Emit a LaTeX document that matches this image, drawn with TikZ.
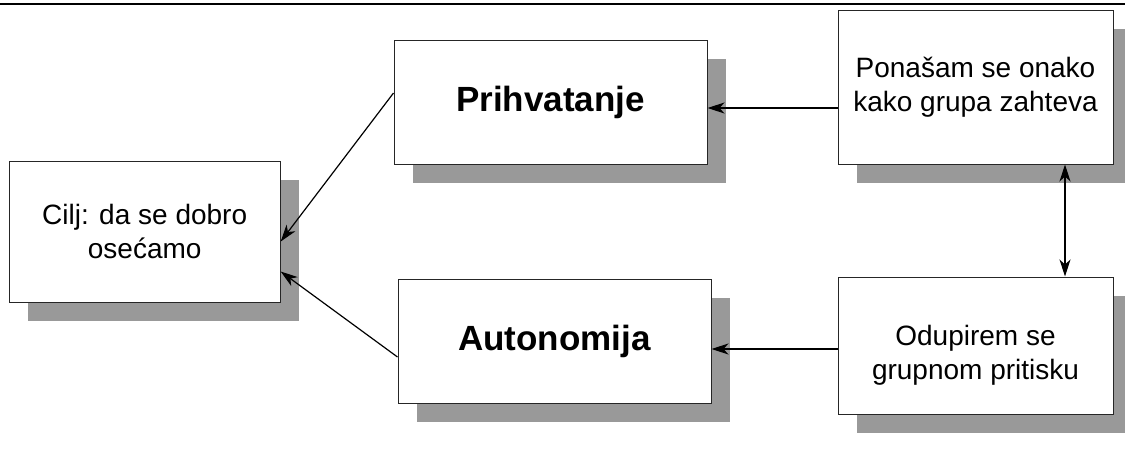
\documentclass[tikz,border=0pt]{standalone}
\usepackage{fontspec}
\setmainfont{Liberation Sans}
\usetikzlibrary{shadows,arrows.meta}
\definecolor{shadowgray}{RGB}{153,153,153}

\begin{document}
\begin{tikzpicture}[x=1pt,y=-1pt,
  box/.style={draw=black!85,line width=1pt,fill=white,align=center,inner sep=0pt,
    drop shadow={shadow xshift=19pt,shadow yshift=-19pt,fill=shadowgray,opacity=1},
    font=\fontsize{28}{33.6}\selectfont},
  bigbox/.style={box,font=\fontsize{35}{42}\selectfont\bfseries},
  arr/.style={-{Stealth[length=17pt,width=11pt,inset=5pt]},line width=1.2pt},
  twoarr/.style={{Stealth[length=17pt,width=11pt,inset=5pt]}-{Stealth[length=17pt,width=11pt,inset=5pt]},line width=1.2pt}]
\useasboundingbox (0,0) rectangle (1125,448);
\draw[line width=2.2pt] (0,4.3) -- (1125,4.3);
\node[box,minimum width=271pt,minimum height=141pt] (cilj) at (144.7,231.5){Cilj: da se dobro\\ osećamo};
\node[bigbox,minimum width=313pt,minimum height=124pt] (prihvatanje) at (550.5,102){Prihvatanje};
\node[box,minimum width=275pt,minimum height=154pt] (ponasam) at (975.5,87){Ponašam se onako\\ kako grupa zahteva};
\node[box,minimum width=275pt,minimum height=137pt] (odupirem) at (975.5,345.5){\rule{0pt}{40pt}Odupirem se\\ grupnom pritisku};
\node[bigbox,minimum width=313pt,minimum height=124pt] (autonomija) at (554.5,341){Autonomija};
\draw[arr]([yshift=-6pt]prihvatanje.east -| ponasam.west) -- ([yshift=-6pt]prihvatanje.east);
\draw[arr]([yshift=-8pt]autonomija.east -| odupirem.west) -- ([yshift=-8pt]autonomija.east);
\draw[arr]([yshift=9pt]prihvatanje.west) -- ([yshift=-10pt]cilj.east);
\draw[arr]([yshift=-16pt]autonomija.west) -- ([yshift=-40pt]cilj.east);
\draw[twoarr]([xshift=89.5pt]ponasam.south) -- ([xshift=89.5pt]ponasam.south |- odupirem.north);
\end{tikzpicture}
\end{document}
